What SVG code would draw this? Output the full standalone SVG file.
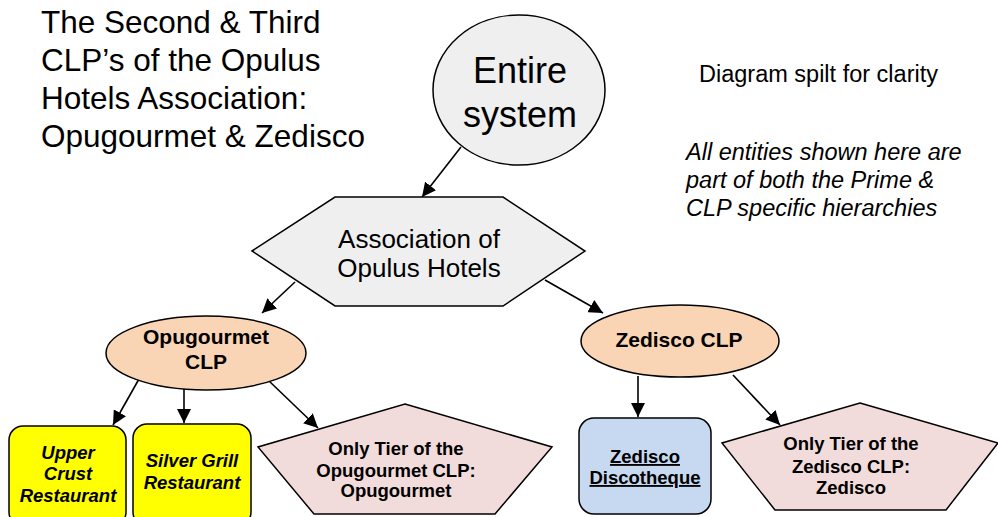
<svg xmlns="http://www.w3.org/2000/svg" width="998" height="517" viewBox="0 0 998 517">
<style>
  text { font-family: "Liberation Sans", Arial, Helvetica, sans-serif; fill: #000; }
  .title { font-size: 31.5px; }
  .note { font-size: 23.5px; }
  .noteI { font-size: 23.5px; font-style: italic; }
  .big { font-size: 36px; text-anchor: middle; }
  .mid { font-size: 26px; text-anchor: middle; }
  .clp { font-size: 21px; font-weight: bold; text-anchor: middle; }
  .small { font-size: 18.5px; font-weight: bold; text-anchor: middle; }
  .smallI { font-size: 18.5px; font-weight: bold; font-style: italic; text-anchor: middle; }
  .ul { text-decoration: underline; }
  .shape { stroke: #000; stroke-width: 1.5; }
  .gray { fill: #EFEFEF; }
  .peach { fill: #F9D5B5; }
  .pink { fill: #F2DCDB; }
  .yellow { fill: #FFFF00; }
  .blue { fill: #C6D9F0; }
  .conn line { stroke: #000; stroke-width: 1.6; marker-end: url(#arrow); }
</style>
<defs>
  <marker id="arrow" markerUnits="userSpaceOnUse" markerWidth="15" markerHeight="14" refX="14" refY="7" orient="auto">
    <path d="M0,0 L14,7 L0,14 z" fill="#000"/>
  </marker>
</defs>
<rect width="998" height="517" fill="#fff"/>

<g id="title">
  <text class="title" x="41" y="33">The Second &amp; Third</text>
  <text class="title" x="41" y="71">CLP’s of the Opulus</text>
  <text class="title" x="41" y="109">Hotels Association:</text>
  <text class="title" x="41" y="147">Opugourmet &amp; Zedisco</text>
</g>

<g id="notes">
  <text class="note" x="699" y="82">Diagram spilt for clarity</text>
  <text class="noteI" x="686" y="160">All entities shown here are</text>
  <text class="noteI" x="686" y="188">part of both the Prime &amp;</text>
  <text class="noteI" x="686" y="216">CLP specific hierarchies</text>
</g>

<g id="connectors" class="conn">
  <line x1="461" y1="147" x2="422" y2="197"/>
  <line x1="295" y1="282" x2="262" y2="313"/>
  <line x1="545" y1="280" x2="603" y2="313"/>
  <line x1="139" y1="379" x2="113" y2="425"/>
  <line x1="184" y1="387" x2="184" y2="423"/>
  <line x1="268" y1="380" x2="318" y2="428"/>
  <line x1="638" y1="376" x2="638" y2="417"/>
  <line x1="733" y1="375" x2="780" y2="425"/>
</g>

<g id="entire-system">
  <ellipse class="shape gray" cx="519" cy="90" rx="86" ry="75"/>
  <text class="big" x="520" y="83">Entire</text>
  <text class="big" x="520" y="127">system</text>
</g>

<g id="association">
  <polygon class="shape gray" points="252,251 335,197 503,197 585,251 503,306 335,306"/>
  <text class="mid" x="419" y="248">Association of</text>
  <text class="mid" x="419" y="277">Opulus Hotels</text>
</g>

<g id="opugourmet-clp">
  <ellipse class="shape peach" cx="206" cy="353" rx="100" ry="37"/>
  <text class="clp" x="206" y="344">Opugourmet</text>
  <text class="clp" x="206" y="369">CLP</text>
</g>

<g id="zedisco-clp">
  <ellipse class="shape peach" cx="680" cy="341" rx="99" ry="36"/>
  <text class="clp" x="679" y="347">Zedisco CLP</text>
</g>

<g id="upper-crust">
  <rect class="shape yellow" x="9" y="426" width="117" height="100" rx="14"/>
  <text class="smallI" x="68" y="459">Upper</text>
  <text class="smallI" x="68" y="480">Crust</text>
  <text class="smallI" x="68" y="502">Restaurant</text>
</g>

<g id="silver-grill">
  <rect class="shape yellow" x="133" y="424" width="118" height="102" rx="14"/>
  <text class="smallI" x="192" y="467">Silver Grill</text>
  <text class="smallI" x="192" y="489">Restaurant</text>
</g>

<g id="opugourmet-tier">
  <polygon class="shape pink" points="405,404 552,447 495,514 314,514 258,447"/>
  <text class="small" x="396" y="455">Only Tier of the</text>
  <text class="small" x="396" y="477">Opugourmet CLP:</text>
  <text class="small" x="396" y="497">Opugourmet</text>
</g>

<g id="zedisco-discotheque">
  <rect class="shape blue" x="579" y="418" width="132" height="96" rx="15"/>
  <text class="small ul" x="645" y="463">Zedisco</text>
  <text class="small ul" x="645" y="484">Discotheque</text>
</g>

<g id="zedisco-tier">
  <polygon class="shape pink" points="860,403 998,443 946,510 775,510 722,443"/>
  <text class="small" x="851" y="450">Only Tier of the</text>
  <text class="small" x="851" y="473">Zedisco CLP:</text>
  <text class="small" x="851" y="494">Zedisco</text>
</g>
</svg>
